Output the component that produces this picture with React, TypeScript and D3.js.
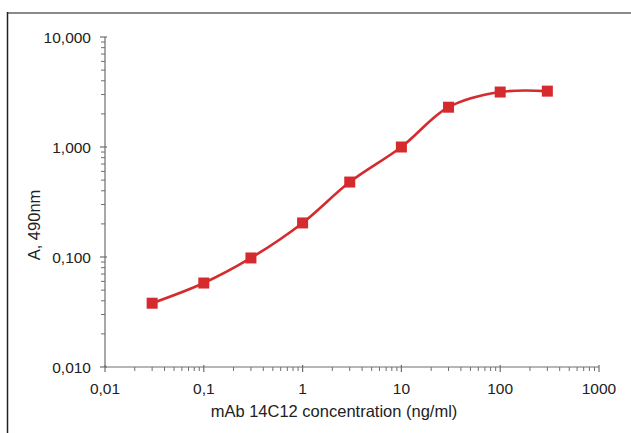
import React from "react";
import * as d3 from "d3";

const concentrations = [0.03, 0.1, 0.3, 1, 3, 10, 30, 100, 300];
const absorbance = [0.038, 0.058, 0.098, 0.204, 0.48, 1.0, 2.3, 3.16, 3.22];
const yTickValues = [0.01, 0.1, 1, 10];
const yTickLabels = ["0,010", "0,100", "1,000", "10,000"];
const xTickValues = [0.01, 0.1, 1, 10, 100, 1000];
const xTickLabels = ["0,01", "0,1", "1", "10", "100", "1000"];
const xTitle = "mAb 14C12 concentration (ng/ml)";
const yTitle = "A, 490nm";

const W = 631;
const H = 433;
const axisColor = "#6e6e6e";
const red = "#d52b2e";
const font = "'Liberation Sans', Arial, sans-serif";

export default function App() {
  const x = d3.scaleLog().domain([0.01, 1000]).range([105, 599]);
  const y = d3.scaleLog().domain([0.01, 10]).range([367, 37]);

  const minorX: number[] = [];
  for (let e = -2; e < 3; e++) for (let m = 2; m <= 9; m++) minorX.push(m * Math.pow(10, e));
  const minorY: number[] = [];
  for (let e = -2; e < 1; e++) for (let m = 2; m <= 9; m++) minorY.push(m * Math.pow(10, e));

  const pts: [number, number][] = concentrations.map((c, i) => [x(c), y(absorbance[i])]);
  const line = d3.line().curve(d3.curveCatmullRom.alpha(0.5))(pts) || "";

  return (
    <svg width={W} height={H} style={{ position: "absolute", left: 0, top: 0, background: "#fff" }}>
      <rect x={0} y={0} width={W} height={H} fill="#fff" />
      <line x1={7} y1={13} x2={W} y2={13} stroke="#8a8a8a" strokeWidth={2} />
      <line x1={7.5} y1={12} x2={7.5} y2={H} stroke="#222" strokeWidth={1.5} />

      {/* Y axis */}
      <line x1={105} y1={y(10)} x2={105} y2={y(0.01)} stroke={axisColor} strokeWidth={1.2} />
      {minorY.map((v) => (
        <line key={"my" + v} x1={101} x2={105} y1={y(v)} y2={y(v)} stroke={axisColor} strokeWidth={1} />
      ))}
      {yTickValues.map((v, i) => (
        <g key={"ty" + v}>
          <line x1={100} x2={107} y1={y(v)} y2={y(v)} stroke={axisColor} strokeWidth={1.2} />
          <text x={91} y={y(v) + 5.5} textAnchor="end" fontFamily={font} fontSize={15.5} fill="#222">
            {yTickLabels[i]}
          </text>
        </g>
      ))}

      {/* X axis */}
      <line x1={x(0.01)} y1={367} x2={x(1000)} y2={367} stroke={axisColor} strokeWidth={1.2} />
      {minorX.map((v) => (
        <line key={"mx" + v} x1={x(v)} x2={x(v)} y1={367} y2={371} stroke={axisColor} strokeWidth={1} />
      ))}
      {xTickValues.map((v, i) => (
        <g key={"tx" + v}>
          <line x1={x(v)} x2={x(v)} y1={365} y2={372} stroke={axisColor} strokeWidth={1.2} />
          <text x={x(v)} y={393.5} textAnchor="middle" fontFamily={font} fontSize={15.5} fill="#222">
            {xTickLabels[i]}
          </text>
        </g>
      ))}

      <text x={334} y={417} textAnchor="middle" fontFamily={font} fontSize={16.5} fill="#222">
        {xTitle}
      </text>
      <text
        transform={`translate(40,225) rotate(-90)`}
        textAnchor="middle"
        fontFamily={font}
        fontSize={16.5}
        fill="#222"
      >
        {yTitle}
      </text>

      <path d={line} fill="none" stroke={red} strokeWidth={2.6} />
      {pts.map(([px, py], i) => (
        <rect key={"p" + i} x={px - 5.5} y={py - 5.5} width={11} height={11} fill={red} />
      ))}
    </svg>
  );
}
